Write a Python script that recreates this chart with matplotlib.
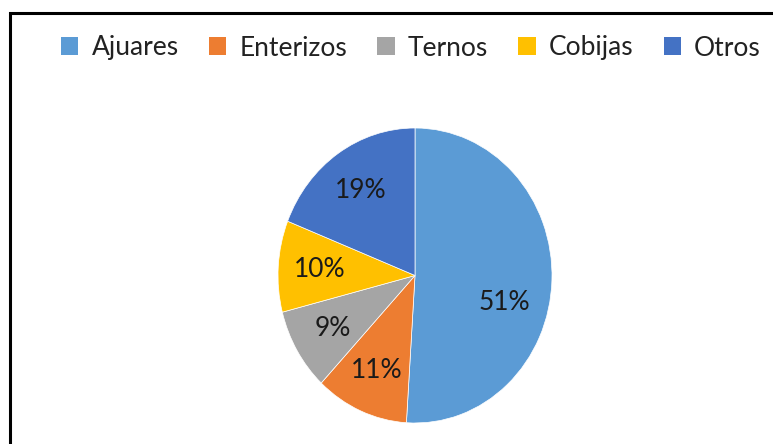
import matplotlib.pyplot as plt
from matplotlib.patches import Patch, Rectangle

plt.rcParams['font.family'] = ['Lato', 'DejaVu Sans']

# Datos del grafico
categorias = ['Ajuares', 'Enterizos', 'Ternos', 'Cobijas', 'Otros']
porcentajes = [51, 11, 9, 10, 19]
colores = ['#5B9BD5', '#ED7D31', '#A5A5A5', '#FFC000', '#4472C4']

W, H = 773, 444
fig = plt.figure(figsize=(W / 100, H / 100), dpi=100)

# marco del grafico (solo bordes izquierdo y superior visibles)
fig.add_artist(Rectangle((10 / W, -0.1), 1.2, 0.1 + (1 - 13 / H),
                         transform=fig.transFigure, fill=False,
                         edgecolor='black', linewidth=2.2))

# pie ligeramente estirado en vertical
cx, cy, rx, ry = 415, 275.5, 137, 147.5
ax = fig.add_axes([(cx - rx) / W, 1 - (cy + ry) / H, 2 * rx / W, 2 * ry / H])
wedges, texts, autotexts = ax.pie(
    porcentajes, colors=colores, startangle=90, counterclock=False,
    autopct='%1.0f%%', pctdistance=0.7,
    wedgeprops=dict(linewidth=0.5, edgecolor='white'),
    textprops=dict(fontsize=19, color='#1a1a1a'))
ax.set_aspect('auto')
ax.set_xlim(-1, 1)
ax.set_ylim(-1, 1)
# etiqueta del 51% algo mas abajo, como en el original
x51, y51 = autotexts[0].get_position()
autotexts[0].set_position((x51 * 0.93, y51 - 0.16))

handles = [Patch(facecolor=c, edgecolor='none') for c in colores]
fig.legend(handles, categorias, loc='center', bbox_to_anchor=(411 / W, 1 - 48 / H),
           ncol=5, frameon=False, fontsize=19, handlelength=0.65, handleheight=0.65,
           handletextpad=0.5, columnspacing=1.15, labelcolor='#222222')

fig.savefig('out.png', dpi=100, facecolor='white')
